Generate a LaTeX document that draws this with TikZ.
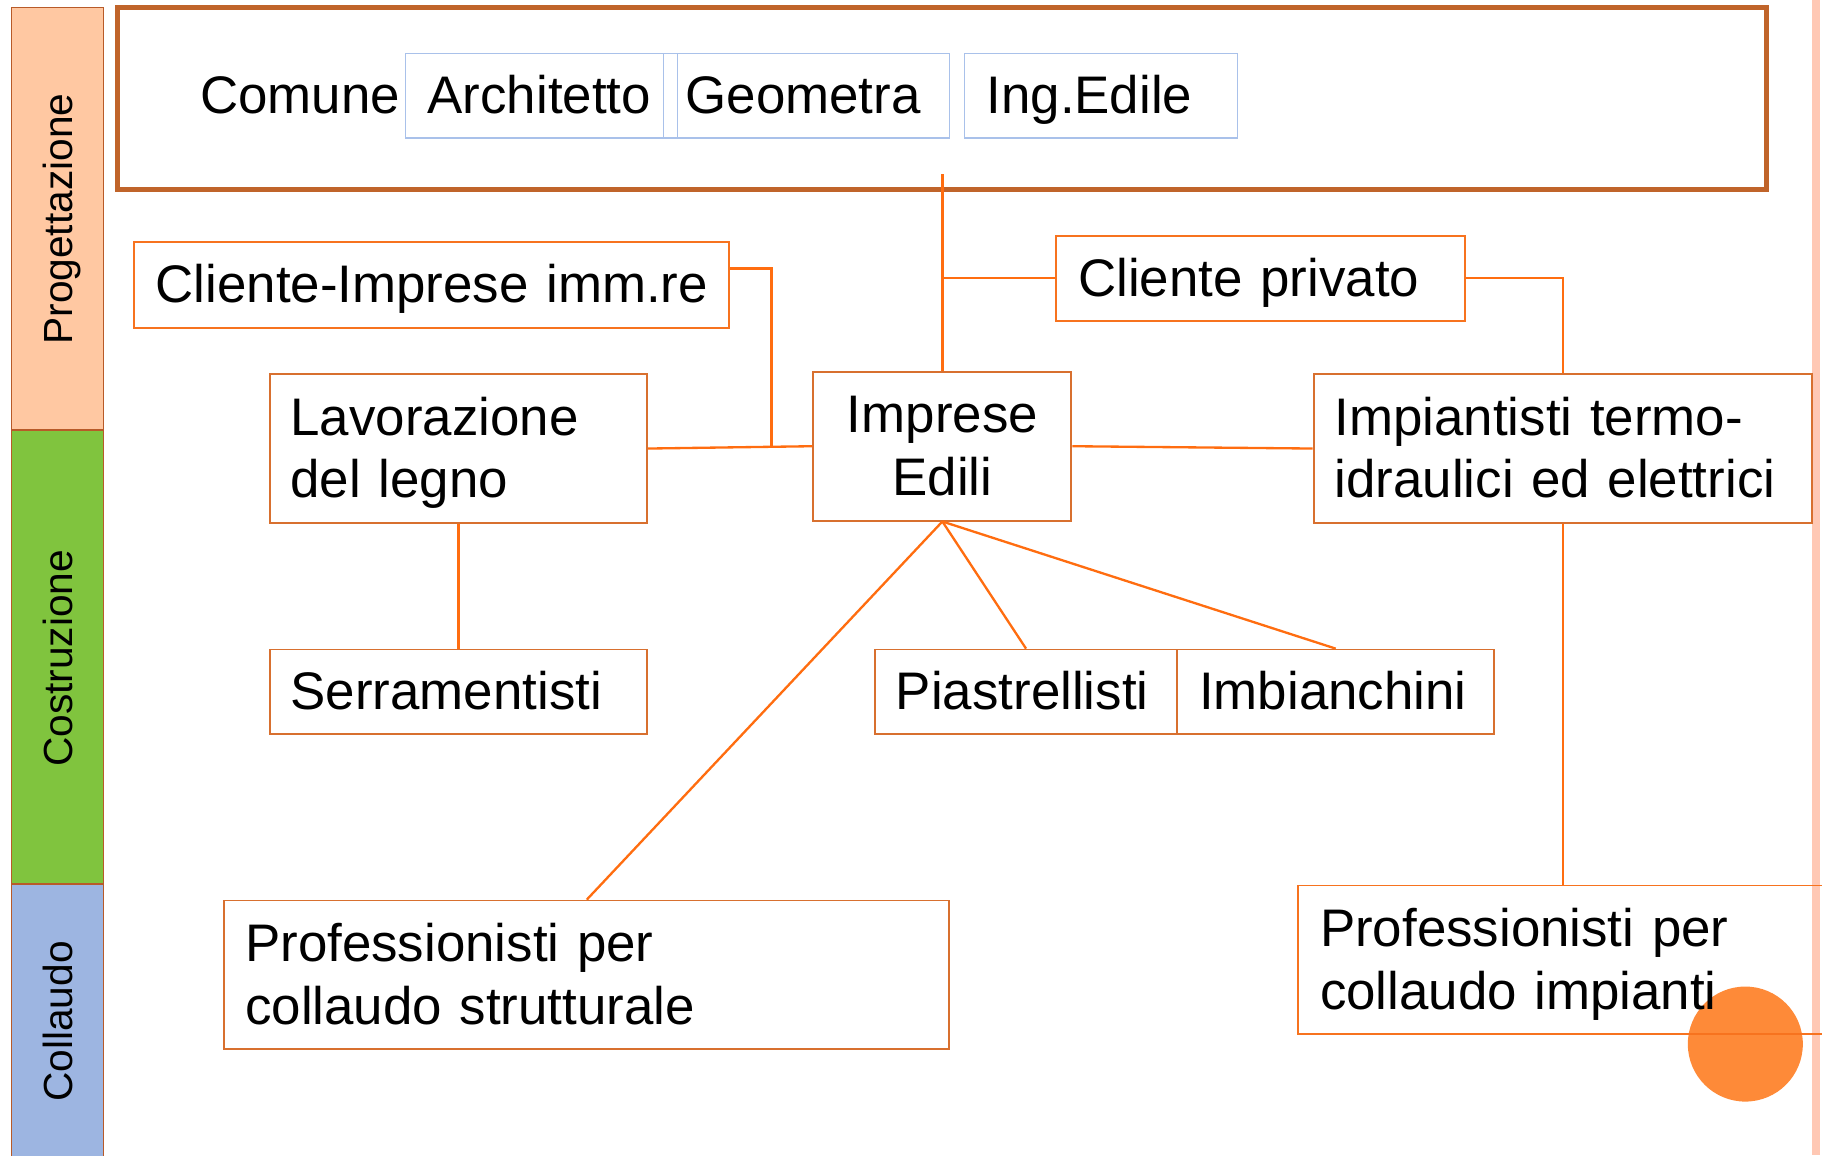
\documentclass[tikz,border=0pt]{standalone}
\usepackage{fontspec}
\setmainfont{Liberation Sans}
\definecolor{peachc}{HTML}{FFC8A2}
\definecolor{greenc}{HTML}{80C43E}
\definecolor{bluec}{HTML}{9DB5E1}
\definecolor{sidec}{HTML}{B85A28}
\definecolor{bigc}{HTML}{C0642A}
\definecolor{linec}{HTML}{FF6D10}
\definecolor{boxc}{HTML}{D8702F}
\definecolor{boxb}{HTML}{F7731F}
\definecolor{blueboxc}{HTML}{A9C1EA}
\definecolor{circc}{HTML}{FE8A38}
\definecolor{peachl}{HTML}{FFC8B4}
\newcommand\bigtxt{\fontsize{45.5}{54}\selectfont}
\newcommand\sidetxt{\fontsize{35}{42}\selectfont}
\begin{document}
\begin{tikzpicture}[x=1pt,y=-1pt,
  obox/.style={draw=boxc, line width=1.6pt, inner xsep=18pt, inner ysep=0pt, align=left, font=\bigtxt},
  brightbox/.style={obox, draw=boxb},
  bbox/.style={draw=blueboxc, line width=1.4pt, inner xsep=19pt, inner ysep=0pt, align=left, font=\bigtxt, minimum height=73pt, text height=31pt, text depth=0pt},
  oneline/.style={text height=31pt, text depth=0pt},
  twoline/.style={text height=31pt, text depth=54pt},
  conn/.style={draw=linec, line width=2pt},
  sidelabel/.style={rotate=90, anchor=base, font=\sidetxt, inner sep=0pt},
  sideband/.style={draw=sidec, line width=1.5pt}]
\clip (0,0) rectangle (1568,994);
% side bar
\draw[sideband, fill=peachc] (10,6.5) rectangle (89,370);
\draw[sideband, fill=greenc] (10,370) rectangle (89,761);
\draw[sideband, fill=bluec] (10,761) rectangle (89,1004);
\node[sidelabel] (lprog) at (62,188.5) {Progettazione};
\node[sidelabel] (lcostr) at (62,566.5) {Costruzione};
\node[sidelabel] (lcoll) at (62,879) {Collaudo};
% right edge line
\fill[peachl] (1559,0) rectangle (1566,994);
% design container
\node[draw=bigc, line width=4pt, minimum width=1419pt, minimum height=156.5pt, inner sep=0pt] (progbox) at (810.5,84.75) {};
\node[anchor=base west, inner sep=0pt, font=\bigtxt] (comune) at (172,97.5) {Comune};
\node[bbox, minimum width=234pt, text width=196pt] (arch) at (466,82.5) {Architetto};
\node[bbox, minimum width=246pt, text width=208pt] (geom) at (694,82.5) {Geometra};
\node[bbox, minimum width=235pt, text width=197pt] (ing) at (947.5,82.5) {Ing.Edile};
% circle (behind the last box text)
\node[circle, fill=circc, minimum size=99pt, inner sep=0pt] (dot) at (1502,898.5) {};
% boxes
\node[brightbox, oneline, inner xsep=19pt, minimum width=512pt, minimum height=74pt, text width=474pt] (clienteimm) at (371,245) {\mbox{Cliente-Imprese imm.re}};
\node[brightbox, oneline, inner xsep=19pt, minimum width=352pt, minimum height=73pt, text width=314pt] (privato) at (1085,239.5) {Cliente privato};
\node[obox, twoline, minimum width=325pt, minimum height=128pt, text width=289pt] (lavoraz) at (394.5,386) {Lavorazione\\del legno};
\node[obox, twoline, align=center, minimum width=222pt, minimum height=128pt, text width=186pt] (imprese) at (811,384) {Imprese\\Edili};
\node[obox, twoline, minimum width=429pt, minimum height=128pt, text width=393pt] (impiant) at (1345,386) {Impiantisti termo-\\idraulici ed elettrici};
\node[obox, oneline, minimum width=325pt, minimum height=73pt, text width=289pt] (serram) at (394.5,595.5) {Serramentisti};
\node[obox, oneline, minimum width=260pt, minimum height=73pt, text width=224pt] (piastr) at (883,595.5) {Piastrellisti};
\node[obox, oneline, inner xsep=19pt, minimum width=273pt, minimum height=73pt, text width=235pt] (imbian) at (1149.5,595.5) {Imbianchini};
\node[obox, twoline, minimum width=624pt, minimum height=128pt, text width=588pt] (profstr) at (505,839) {Professionisti per\\collaudo strutturale};
\node[brightbox, twoline, inner xsep=19pt, minimum width=456pt, minimum height=128pt, text width=418pt] (profimp) at (1345,826) {Professionisti per\\collaudo impianti};
% connectors
\coordinate (topj) at (811,150);
\coordinate (cj) at (664,231);
\coordinate (lj) at (664,383.7);
\draw[conn] (topj) -- (imprese.north);
\draw[conn] (privato.west) -- (privato.west -| imprese.north);
\draw[conn] (privato.east) -| (impiant.north);
\draw[conn] (clienteimm.east |- cj) -- (cj) -- (lj);
\draw[conn] (lavoraz.east) -- (imprese.west);
\draw[conn] (imprese.east) -- (impiant.west);
\draw[conn] (lavoraz.south) -- (serram.north);
\draw[conn] (imprese.south) -- (piastr.north);
\draw[conn] (imprese.south) -- (imbian.north);
\draw[conn] (imprese.south) -- (profstr.north);
\draw[conn] (impiant.south) -- (profimp.north);
\end{tikzpicture}
\end{document}
